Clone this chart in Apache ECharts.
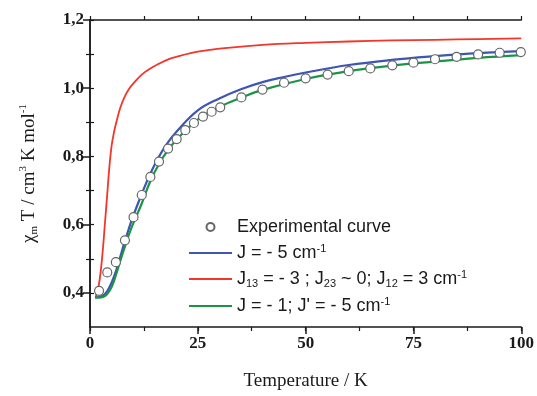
<!DOCTYPE html>
<html>
<head>
<meta charset="utf-8">
<script src="https://cdn.jsdelivr.net/npm/echarts@6/dist/echarts.min.js"></script>
<style>html,body{margin:0;padding:0;background:#fff}#c{width:537px;height:396px}</style>
</head>
<body>
<div id="c"></div>
<script>
// Experimental points [T, chiT]
var expT = [2.1, 4.0, 6.0, 8.1, 10.1, 12.0, 14.0, 16.0, 18.1, 20.1, 22.1, 24.1, 26.2, 28.2, 30.2, 35.1, 40.0, 45.0, 50.0, 55.1, 60.0, 65.0, 70.1, 75.0, 80.0, 85.0, 90.0, 95.0, 99.9];
var expV = [0.406, 0.460, 0.490, 0.554, 0.622, 0.687, 0.740, 0.785, 0.823, 0.851, 0.877, 0.898, 0.917, 0.931, 0.944, 0.973, 0.996, 1.016, 1.029, 1.040, 1.050, 1.058, 1.067, 1.075, 1.085, 1.092, 1.099, 1.104, 1.106];

// Curve J = -5
var blueT = [1.2, 2, 3, 4, 5, 6, 7, 8, 9, 10, 12, 14, 16, 18, 20, 25, 30, 35, 40, 45, 50, 60, 70, 80, 90, 100];
var blueV = [0.387, 0.388, 0.392, 0.405, 0.430, 0.463, 0.505, 0.548, 0.588, 0.625, 0.690, 0.750, 0.800, 0.840, 0.872, 0.935, 0.970, 0.997, 1.018, 1.033, 1.046, 1.068, 1.083, 1.094, 1.103, 1.109];

// Curve J13 = -3; J23 ~ 0; J12 = 3
var redT = [1.3, 2, 2.5, 3, 3.5, 4, 4.5, 5, 5.5, 6, 7, 8, 9, 10, 12, 14, 16, 18, 20, 25, 30, 40, 50, 60, 70, 80, 90, 100];
var redV = [0.387, 0.420, 0.465, 0.530, 0.610, 0.690, 0.770, 0.830, 0.867, 0.895, 0.942, 0.974, 0.997, 1.013, 1.040, 1.058, 1.072, 1.084, 1.092, 1.107, 1.116, 1.127, 1.133, 1.137, 1.140, 1.142, 1.144, 1.146];

// Curve J = -1; J' = -5
var greenT = [1.2, 2, 3, 4, 5, 6, 7, 8, 9, 10, 12, 14, 16, 18, 20, 25, 30, 35, 40, 50, 60, 70, 80, 90, 100];
var greenV = [0.386, 0.386, 0.388, 0.397, 0.417, 0.452, 0.493, 0.532, 0.570, 0.603, 0.662, 0.728, 0.778, 0.817, 0.848, 0.908, 0.945, 0.972, 0.995, 1.027, 1.050, 1.066, 1.078, 1.089, 1.097];

var xTickValues = [0, 25, 50, 75, 100];
var xTickLabels = ['0', '25', '50', '75', '100'];
var yTickValues = [0.4, 0.6, 0.8, 1.0, 1.2];
var yTickLabels = ['0,4', '0,6', '0,8', '1,0', '1,2'];
var yMinorValues = [0.5, 0.7, 0.9, 1.1];

var seriesNames = ['Experimental curve', 'J = - 5 cm-1', 'J13 = - 3 ; J23 ~ 0; J12 = 3 cm-1', 'J = - 1; J\' = - 5 cm-1'];
var legendRich = [
  '{t|Experimental curve}',
  '{t|J = - 5 cm}{sup|-1}',
  '{t|J}{sub|13}{t| = - 3 ; J}{sub|23}{t| ~ 0; J}{sub|12}{t| = 3 cm}{sup|-1}',
  '{t|J = - 1; J\' = - 5 cm}{sup|-1}'
];

function pairs(a, b) { return a.map(function (v, i) { return [v, b[i]]; }); }

var chart = echarts.init(document.getElementById('c'), null, { renderer: 'canvas' });
var axisColor = '#1a1a1a';
var tickFont = { fontFamily: 'Liberation Serif', fontWeight: 'bold', fontSize: 17, color: '#1a1a1a' };
var hiddenSymbol = { color: 'rgba(0,0,0,0)', borderColor: 'rgba(0,0,0,0)', borderWidth: 0 };

var option = {
  animation: false,
  backgroundColor: '#fff',
  grid: { left: 90, right: 14, top: 20, bottom: 58, containLabel: false },
  legend: {
    orient: 'vertical', left: 183, top: 213,
    itemWidth: 43, itemHeight: 8, itemGap: 7,
    data: [
      { name: seriesNames[0] },
      { name: seriesNames[1], itemStyle: hiddenSymbol },
      { name: seriesNames[2], itemStyle: hiddenSymbol },
      { name: seriesNames[3], itemStyle: hiddenSymbol }
    ],
    formatter: function (name) { return legendRich[seriesNames.indexOf(name)]; },
    textStyle: {
      fontFamily: 'Liberation Sans', fontSize: 18, color: '#1a1a1a',
      rich: {
        t: { fontFamily: 'Liberation Sans', fontSize: 18, lineHeight: 20, color: '#1a1a1a' },
        sub: { fontFamily: 'Liberation Sans', fontSize: 11, lineHeight: 9, verticalAlign: 'bottom', color: '#1a1a1a' },
        sup: { fontFamily: 'Liberation Sans', fontSize: 11, lineHeight: 10, verticalAlign: 'top', color: '#1a1a1a' }
      }
    }
  },
  xAxis: [
    {
      type: 'value', position: 'bottom', min: 0, max: 100, interval: 12.5,
      name: 'Temperature / K', nameLocation: 'middle', nameGap: 45,
      nameTextStyle: { fontFamily: 'Liberation Serif', fontSize: 19, color: '#1a1a1a' },
      axisLine: { show: true, lineStyle: { color: axisColor, width: 1.5 } },
      axisTick: { show: true, customValues: xTickValues, length: 7, lineStyle: { color: axisColor, width: 1.5 } },
      axisLabel: Object.assign({ customValues: xTickValues, margin: 8,
        formatter: function (v) { return xTickLabels[xTickValues.indexOf(v)]; } }, tickFont),
      splitLine: { show: false }
    },
    {
      type: 'value', position: 'bottom', min: 0, max: 100, interval: 12.5,
      axisLine: { show: false },
      axisTick: { show: true, length: 4, lineStyle: { color: axisColor, width: 1.2 } },
      axisLabel: { show: false }, splitLine: { show: false }
    },
    {
      type: 'value', position: 'top', min: 0, max: 100, interval: 12.5,
      axisLine: { show: true, lineStyle: { color: axisColor, width: 1.5 } },
      axisTick: { show: true, length: 4, lineStyle: { color: axisColor, width: 1.2 } },
      axisLabel: { show: false }, splitLine: { show: false }
    }
  ],
  yAxis: [
    {
      type: 'value', position: 'left', min: 0.3, max: 1.2, interval: 0.1,
      name: '{i|χ}{sub|m}{i| T / cm}{sup|3}{i| K mol}{sup|-1}',
      nameLocation: 'middle', nameGap: 50, nameRotate: 90,
      nameTextStyle: {
        fontFamily: 'Liberation Serif', fontSize: 19, color: '#1a1a1a',
        rich: {
          i: { fontFamily: 'Liberation Serif', fontSize: 19, lineHeight: 22, color: '#1a1a1a' },
          sub: { fontFamily: 'Liberation Serif', fontSize: 11, lineHeight: 10, verticalAlign: 'bottom', color: '#1a1a1a' },
          sup: { fontFamily: 'Liberation Serif', fontSize: 11, lineHeight: 10, verticalAlign: 'top', color: '#1a1a1a' }
        }
      },
      axisLine: { show: true, lineStyle: { color: axisColor, width: 1.5 } },
      axisTick: { show: true, customValues: yTickValues, length: 7, lineStyle: { color: axisColor, width: 1.5 } },
      axisLabel: Object.assign({ customValues: yTickValues, margin: 6,
        formatter: function (v) {
          for (var k = 0; k < yTickValues.length; k++) { if (Math.abs(yTickValues[k] - v) < 1e-6) return yTickLabels[k]; }
          return '';
        } }, tickFont),
      splitLine: { show: false }
    },
    {
      type: 'value', position: 'left', min: 0.3, max: 1.2, interval: 0.1,
      axisLine: { show: false },
      axisTick: { show: true, customValues: yMinorValues, length: 4, lineStyle: { color: axisColor, width: 1.2 } },
      axisLabel: { show: false }, splitLine: { show: false }
    },
    {
      type: 'value', position: 'right', min: 0.3, max: 1.2, interval: 0.1,
      axisLine: { show: true, lineStyle: { color: axisColor, width: 1.5 } },
      axisTick: { show: true, customValues: yTickValues.concat(yMinorValues), length: 4, lineStyle: { color: axisColor, width: 1.2 } },
      axisLabel: { show: false }, splitLine: { show: false }
    }
  ],
  series: [
    {
      name: seriesNames[1], type: 'line', smooth: 0.4, symbol: 'none', z: 3,
      data: pairs(blueT, blueV), lineStyle: { color: '#3e55b3', width: 2.2 }, itemStyle: { color: '#3e55b3' }
    },
    {
      name: seriesNames[2], type: 'line', smooth: 0.4, symbol: 'none', z: 3,
      data: pairs(redT, redV), lineStyle: { color: '#f2362b', width: 1.8 }, itemStyle: { color: '#f2362b' }
    },
    {
      name: seriesNames[3], type: 'line', smooth: 0.4, symbol: 'none', z: 4,
      data: pairs(greenT, greenV), lineStyle: { color: '#1c9447', width: 2.2 }, itemStyle: { color: '#1c9447' }
    },
    {
      name: seriesNames[0], type: 'scatter', symbol: 'circle', symbolSize: 9, z: 5,
      data: pairs(expT, expV),
      itemStyle: { color: '#ffffff', borderColor: '#666666', borderWidth: 1.2, opacity: 1 }
    }
  ]
};
chart.setOption(option);
</script>
</body>
</html>
